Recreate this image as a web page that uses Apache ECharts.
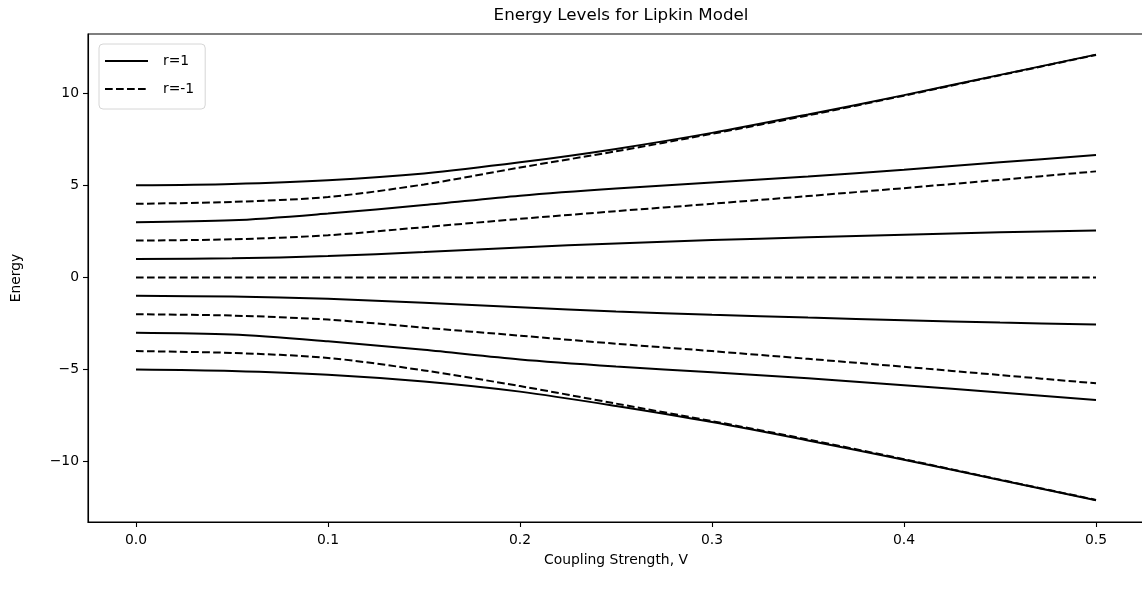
<!DOCTYPE html>
<html>
<head>
<meta charset="utf-8">
<script src="https://cdn.jsdelivr.net/npm/echarts@6/dist/echarts.min.js"></script>
<style>
  html, body { margin: 0; padding: 0; background: #fff; overflow: hidden; }
  #chart { width: 1144px; height: 590px; }
</style>
</head>
<body>
<div id="chart"></div>
<script>
// coupling strength V
const couplingV = [0, 0.05, 0.1, 0.15, 0.2, 0.25, 0.3, 0.35, 0.4, 0.45, 0.5];

// r = 1 levels (solid)
const r1Level5 = [5.0, 5.08, 5.28, 5.65, 6.25, 6.98, 7.85, 8.85, 9.9, 11.0, 12.1];
const r1Level3 = [3.0, 3.1, 3.47, 3.93, 4.44, 4.83, 5.15, 5.48, 5.85, 6.25, 6.65];
const r1Level1 = [1.0, 1.04, 1.16, 1.38, 1.63, 1.85, 2.03, 2.18, 2.32, 2.45, 2.55];
const r1LevelM1 = [-1.0, -1.04, -1.16, -1.38, -1.62, -1.85, -2.03, -2.18, -2.32, -2.45, -2.55];
const r1LevelM3 = [-3.0, -3.1, -3.47, -3.93, -4.45, -4.83, -5.15, -5.48, -5.85, -6.25, -6.65];
const r1LevelM5 = [-5.0, -5.08, -5.28, -5.65, -6.2, -6.98, -7.85, -8.85, -9.9, -11.0, -12.1];

// r = -1 levels (dashed)
const rm1Level4 = [4.0, 4.1, 4.37, 5.05, 5.97, 6.85, 7.8, 8.8, 9.87, 10.98, 12.08];
const rm1Level2 = [2.0, 2.07, 2.29, 2.73, 3.18, 3.6, 4.0, 4.42, 4.85, 5.3, 5.76];
const rm1Level0 = [0, 0, 0, 0, 0, 0, 0, 0, 0, 0, 0];
const rm1LevelM2 = [-2.0, -2.07, -2.29, -2.73, -3.16, -3.6, -4.0, -4.42, -4.85, -5.3, -5.75];
const rm1LevelM4 = [-4.0, -4.1, -4.37, -5.05, -5.9, -6.85, -7.8, -8.8, -9.87, -10.98, -12.08];

const xTicks = [0, 0.1, 0.2, 0.3, 0.4, 0.5];
const yTicks = [-10, -5, 0, 5, 10];

const FONT = 'DejaVu Sans';
const dashPattern = [7.7, 3.3];

const solidLevels = [r1Level5, r1Level3, r1Level1, r1LevelM1, r1LevelM3, r1LevelM5];
const dashedLevels = [rm1Level4, rm1Level2, rm1Level0, rm1LevelM2, rm1LevelM4];

function makeSeries(name, values, dashed) {
    return {
        name: name,
        type: 'line',
        data: couplingV.map((v, i) => [v, values[i]]),
        symbol: 'none',
        smooth: 0.3,
        z: dashed ? 2 : 3,
        lineStyle: { color: '#000', width: 2, type: dashed ? dashPattern : 'solid', cap: 'butt' },
        itemStyle: { color: '#000' },
        emphasis: { disabled: true }
    };
}

const series = [
    ...solidLevels.map(l => makeSeries('r=1', l, false)),
    ...dashedLevels.map(l => makeSeries('r=-1', l, true))
];

const chart = echarts.init(document.getElementById('chart'), null, { renderer: 'canvas' });

chart.setOption({
    animation: false,
    backgroundColor: '#fff',
    title: {
        text: 'Energy Levels for Lipkin Model',
        left: 616, top: 2, textAlign: 'center',
        textStyle: { fontFamily: FONT, fontSize: 16.7, fontWeight: 'normal', color: '#000' }
    },
    legend: {
        data: ['r=1', 'r=-1'],
        orient: 'vertical',
        left: 99, top: 44,
        itemWidth: 43, itemHeight: 14, itemGap: 14,
        padding: [10, 11, 13, 5],
        backgroundColor: 'rgba(255,255,255,0.8)',
        borderColor: '#d6d6d6', borderWidth: 1, borderRadius: 4,
        itemStyle: { opacity: 0 },
        textStyle: { fontFamily: FONT, fontSize: 13.9, color: '#000', padding: [0, 0, 0, 10] },
        selectedMode: false
    },
    grid: {
        left: 88, right: 0, top: 34, bottom: 68,
        show: true, borderColor: '#000', borderWidth: 1.1
    },
    xAxis: {
        type: 'value',
        min: -0.025, max: 0.525,
        name: 'Coupling Strength, V',
        nameLocation: 'middle', nameGap: 31, nameMoveOverlap: false,
        nameTextStyle: { fontFamily: FONT, fontSize: 13.9, color: '#000' },
        axisLine: { onZero: false, lineStyle: { color: '#000', width: 1.1 } },
        axisTick: { customValues: xTicks, length: 5, lineStyle: { color: '#000', width: 1.1 } },
        axisLabel: {
            customValues: xTicks, margin: 11,
            fontFamily: FONT, fontSize: 13.9, color: '#000',
            formatter: v => v.toFixed(1)
        },
        splitLine: { show: false }
    },
    yAxis: {
        type: 'value',
        min: -13.28, max: 13.22,
        name: 'Energy',
        nameLocation: 'middle', nameGap: 65, nameMoveOverlap: false,
        nameTextStyle: { fontFamily: FONT, fontSize: 13.9, color: '#000' },
        axisLine: { onZero: false, lineStyle: { color: '#000', width: 1.1 } },
        axisTick: { customValues: yTicks, length: 5, lineStyle: { color: '#000', width: 1.1 } },
        axisLabel: {
            customValues: yTicks, margin: 9,
            fontFamily: FONT, fontSize: 13.9, color: '#000',
            formatter: v => String(v).replace('-', '\u2212')
        },
        splitLine: { show: false }
    },
    series: series
});
</script>
</body>
</html>
